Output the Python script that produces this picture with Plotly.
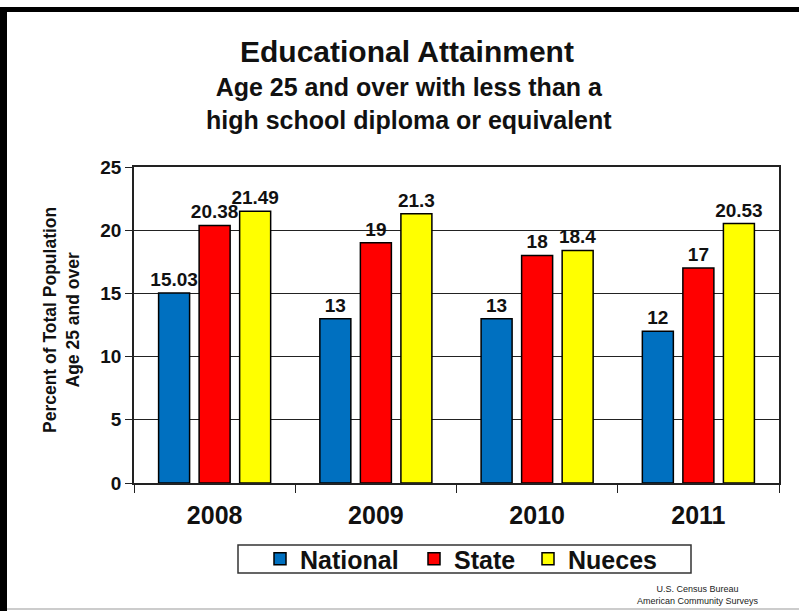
import plotly.graph_objects as go

years = ["2008", "2009", "2010", "2011"]
national = [15.03, 13, 13, 12]
state = [20.38, 19, 18, 17]
nueces = [21.49, 21.3, 18.4, 20.53]
series_names = ["National", "State", "Nueces"]
colors = ["#0070C0", "#FF0000", "#FFFF00"]
y_ticks = [0, 5, 10, 15, 20, 25]

W, H = 799, 611
L, R, T, B = 134, 20, 167, 128
pw, ph = W - L - R, H - T - B

def px(x):
    return (x - L) / pw

def py(y):
    return (H - B - y) / ph

FONT = "Liberation Sans, Arial, sans-serif"
INK = "#111111"

legend_ids = ["legend", "legend2", "legend3"]
legend_left = [260, 414, 528]

fig = go.Figure()
for name, vals, col, lid in zip(series_names, [national, state, nueces], colors, legend_ids):
    fig.add_trace(go.Bar(
        x=years, y=vals, name=name, legend=lid,
        marker=dict(color=col, line=dict(color="#000000", width=1.5)),
        texttemplate="%{y}", textposition="outside", cliponaxis=False,
        constraintext="none",
        textfont=dict(family=FONT, size=19, color=INK, weight="bold"),
    ))

legend_common = dict(
    orientation="h", yanchor="middle", y=py(559), xanchor="left",
    bgcolor="rgba(0,0,0,0)", borderwidth=0,
    font=dict(family=FONT, size=25, color=INK, weight="bold"),
    itemwidth=30,
)

fig.update_layout(
    width=W, height=H,
    margin=dict(l=L, r=R, t=T, b=B, autoexpand=False),
    paper_bgcolor="white", plot_bgcolor="white",
    barmode="group", bargap=0.246, bargroupgap=0.235,
    font=dict(family=FONT, color=INK),
    showlegend=True,
    legend=dict(x=px(legend_left[0]), **legend_common),
    legend2=dict(x=px(legend_left[1]), **legend_common),
    legend3=dict(x=px(legend_left[2]), **legend_common),
    xaxis=dict(
        showline=True, linecolor="#222222", linewidth=1.5, mirror=True,
        ticks="outside", tickson="boundaries", ticklen=8, tickcolor="#222222",
        tickfont=dict(family=FONT, size=25, color=INK, weight="bold"),
        ticklabelstandoff=9,
        showgrid=False,
    ),
    yaxis=dict(
        range=[0, 25], tickvals=y_ticks,
        showline=True, linecolor="#222222", linewidth=1.5, mirror=True,
        ticks="outside", ticklen=7, tickcolor="#222222",
        showgrid=True, gridcolor="#222222", gridwidth=1,
        tickfont=dict(family=FONT, size=19, color=INK, weight="bold"),
        zeroline=False,
    ),
)

# Legend box
fig.add_shape(type="rect", xref="paper", yref="paper", x0=px(238), x1=px(691), y0=py(573), y1=py(545),
              line=dict(color="#333333", width=1.5), fillcolor="rgba(0,0,0,0)", layer="below")

# Titles
fig.add_annotation(text="<b>Educational Attainment</b>", xref="paper", yref="paper",
                   x=px(407), y=py(51), xanchor="center", yanchor="middle",
                   showarrow=False, font=dict(family=FONT, size=30, color=INK))
fig.add_annotation(text="<b>Age 25 and over with less than a<br>high school diploma or equivalent</b>",
                   xref="paper", yref="paper",
                   x=px(409), y=py(103), xanchor="center", yanchor="middle",
                   showarrow=False, font=dict(family=FONT, size=25, color=INK))
fig.add_annotation(text="<b>Percent of Total Population<br>Age 25 and over</b>",
                   xref="paper", yref="paper", textangle=-90,
                   x=px(61), y=py(320), xanchor="center", yanchor="middle",
                   showarrow=False, font=dict(family=FONT, size=17.5, color=INK))
fig.add_annotation(text="U.S. Census Bureau<br>American Community Surveys",
                   xref="paper", yref="paper",
                   x=px(698), y=py(595), xanchor="center", yanchor="middle",
                   showarrow=False, font=dict(family=FONT, size=9, color="#222222"))

# Frame border
fig.add_shape(type="rect", xref="paper", yref="paper", x0=px(0), x1=px(799), y0=py(12), y1=py(7),
              fillcolor="black", line=dict(width=0), layer="above")
fig.add_shape(type="rect", xref="paper", yref="paper", x0=px(0), x1=px(7), y0=py(611), y1=py(7),
              fillcolor="black", line=dict(width=0), layer="above")
fig.add_shape(type="line", xref="paper", yref="paper", x0=px(7), x1=px(799), y0=py(609), y1=py(609),
              line=dict(color="#BBBBBB", width=1.5), layer="above")

fig.write_html("out.html", config={"displayModeBar": False},
               post_script="document.body.style.margin='0';document.body.style.overflow='hidden';")
